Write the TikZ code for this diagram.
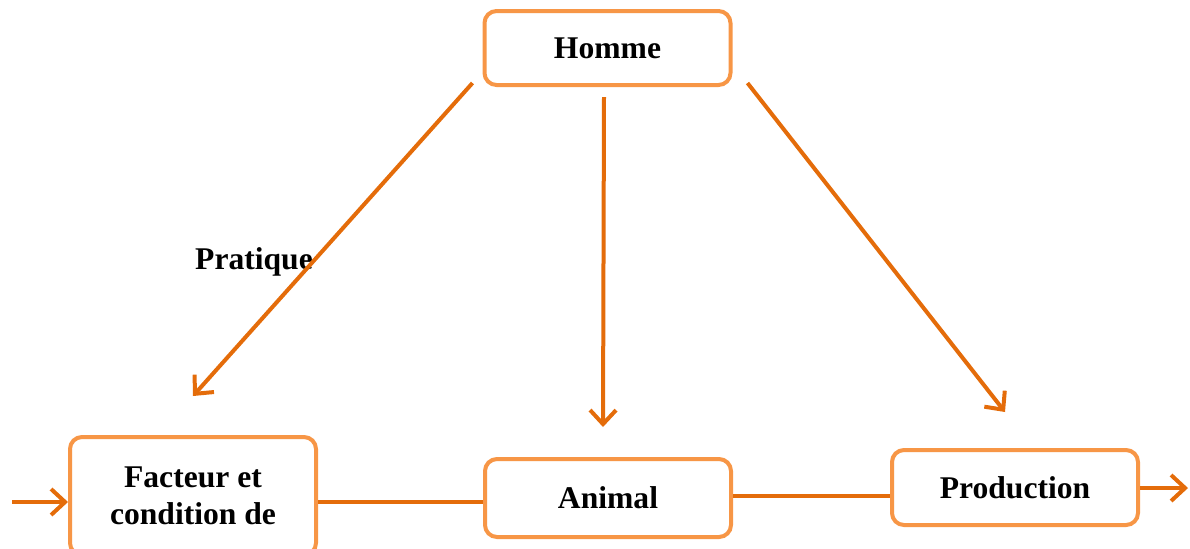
\documentclass[tikz,border=0pt]{standalone}
\usepackage{fontspec}
\setmainfont{Liberation Serif}
\usetikzlibrary{positioning,arrows.meta}
\definecolor{hmbord}{RGB}{247,150,70}
\definecolor{hmarrow}{RGB}{228,108,10}
\tikzset{
  hm/.style={font=\bfseries\fontsize{15.8}{18.5}\selectfont, text=black},
  hmbox/.style={
    hm, draw=hmbord, fill=white, line width=2pt, rounded corners=6pt,
    align=center, minimum width=123pt, minimum height=37pt
  },
  hmarr/.style={-{Straight Barb[length=7pt,width=13pt,line width=2pt]}, line width=2pt, draw=hmarrow},
  hmline/.style={line width=2pt, draw=hmarrow},
}

\begin{document}
\begin{tikzpicture}[x=0.5pt,y=-0.5pt]
    \useasboundingbox (0,0) rectangle (1190,548);
    \clip (0,0) rectangle (1190,548);

    \node[hmbox] (homme) at (607.5,48) {Homme};
    \node[hmbox, minimum height=59pt] (facteur) at (193,496) {Facteur et\\condition de};
    \node[hmbox, minimum height=39pt] (animal) at (608,498) {Animal};
    \node[hmbox, minimum height=37.5pt] (production) at (1015,487.5) {Production};

    \node[hm] (pratique) at (254,262) {Pratique};

    % free ends
    \coordinate (entree) at (12,502);
    \coordinate (sortie) at (1188,488);

    % from Homme
    \draw[hmarr] ([shift={(-10,-4)}]homme.south west) -- ([shift={(0,-39)}]facteur.north);
    \draw[hmarr] ([shift={(-3.5,10)}]homme.south) -- ([shift={(-5,-30)}]animal.north);
    \draw[hmarr] ([shift={(15,-4)}]homme.south east) -- ([shift={(-10,-36)}]production.north);

    % chain at the bottom
    \draw[hmarr] (entree) -- (entree -| facteur.west);
    \draw[hmline] ([yshift=-3pt]facteur.east) -- ([yshift=-3pt]facteur.east -| animal.west);
    \draw[hmline] ([yshift=1pt]animal.east) -- ([yshift=1pt]animal.east -| production.west);
    \draw[hmarr] (production.east |- sortie) -- (sortie);
  \end{tikzpicture}
\end{document}
